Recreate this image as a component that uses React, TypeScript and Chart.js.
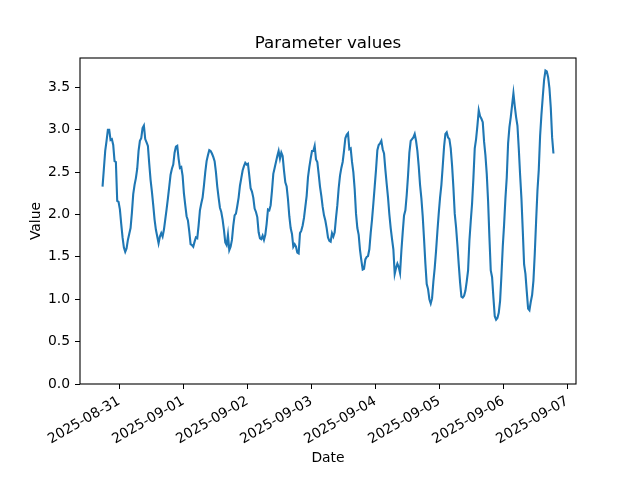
import React, { useEffect, useRef } from "react";
import { Chart, registerables } from "chart.js";

Chart.register(...registerables);

const TITLE = "Parameter values";
const X_LABEL = "Date";
const Y_LABEL = "Value";

const START_UTC = "2025-08-30T17:45:00Z";
const STEP_HOURS = 0.5;

const values: number[] = [
  2.33, 2.54, 2.75, 2.87, 3.0, 3.0, 2.88, 2.89, 2.82, 2.63,
  2.62, 2.16, 2.15, 2.06, 1.89, 1.73, 1.61, 1.56, 1.6, 1.7,
  1.77, 1.84, 2.02, 2.24, 2.35, 2.43, 2.54, 2.75, 2.87, 2.9,
  3.02, 3.05, 2.89, 2.85, 2.81, 2.6, 2.41, 2.27, 2.11, 1.94,
  1.82, 1.74, 1.66, 1.74, 1.78, 1.74, 1.82, 1.94, 2.06, 2.19,
  2.33, 2.47, 2.54, 2.59, 2.73, 2.8, 2.81, 2.66, 2.55, 2.56,
  2.46, 2.25, 2.11, 1.98, 1.93, 1.8, 1.65, 1.64, 1.62, 1.68,
  1.73, 1.72, 1.87, 2.05, 2.13, 2.2, 2.34, 2.5, 2.63, 2.7,
  2.76, 2.75, 2.72, 2.68, 2.63, 2.5, 2.33, 2.2, 2.08, 2.03,
  1.94, 1.82, 1.67, 1.64, 1.76, 1.58, 1.62, 1.7, 1.87, 1.99,
  2.01, 2.1, 2.2, 2.34, 2.43, 2.52, 2.57, 2.61, 2.59, 2.6,
  2.46, 2.31, 2.27, 2.2, 2.07, 2.03, 1.97, 1.79, 1.72, 1.71,
  1.75, 1.7, 1.76, 1.89, 2.06, 2.05, 2.11, 2.28, 2.48, 2.55,
  2.62, 2.69, 2.75, 2.66, 2.73, 2.69, 2.52, 2.38, 2.33, 2.18,
  1.98, 1.84, 1.77, 1.62, 1.65, 1.62, 1.55, 1.54, 1.78, 1.81,
  1.87, 1.96, 2.09, 2.22, 2.44, 2.56, 2.66, 2.75, 2.75, 2.81,
  2.65, 2.62, 2.48, 2.33, 2.22, 2.09, 1.99, 1.93, 1.84, 1.73,
  1.69, 1.68, 1.78, 1.74, 1.79, 1.96, 2.11, 2.31, 2.46, 2.55,
  2.62, 2.75, 2.9, 2.94, 2.96, 2.77, 2.78, 2.62, 2.5, 2.3,
  2.01, 1.84, 1.76, 1.58, 1.46, 1.35, 1.36, 1.47, 1.5, 1.51,
  1.59, 1.78, 1.94, 2.13, 2.33, 2.53, 2.76, 2.82, 2.84, 2.87,
  2.77, 2.72, 2.53, 2.36, 2.2, 2.0, 1.84, 1.71, 1.59, 1.3,
  1.37, 1.42, 1.38, 1.31, 1.57, 1.79, 1.99, 2.05, 2.23, 2.46,
  2.73, 2.87, 2.89, 2.91, 2.95, 2.87, 2.75, 2.57, 2.35, 2.19,
  1.98, 1.71, 1.42, 1.18, 1.12, 1.0, 0.95, 1.01, 1.21, 1.37,
  1.57, 1.8, 2.01, 2.2, 2.35, 2.57, 2.8, 2.95, 2.97, 2.91,
  2.89, 2.78, 2.58, 2.32, 2.01, 1.85, 1.64, 1.41, 1.2, 1.03,
  1.02, 1.04, 1.1, 1.21, 1.34, 1.69, 1.92, 2.13, 2.43, 2.78,
  2.89, 3.05, 3.23, 3.16, 3.13, 3.09, 2.86, 2.7, 2.48, 2.16,
  1.73, 1.34, 1.26, 1.02, 0.8, 0.76, 0.78, 0.84, 0.98, 1.28,
  1.62, 1.88, 2.19, 2.44, 2.84, 3.03, 3.15, 3.29, 3.43, 3.28,
  3.15, 3.05, 2.78, 2.47, 2.19, 1.81, 1.41, 1.3, 1.09, 0.89,
  0.87, 0.97, 1.05, 1.22, 1.54, 1.92, 2.28, 2.53, 2.93, 3.18,
  3.39, 3.59, 3.7, 3.69, 3.62, 3.49, 3.26, 2.91, 2.72,
];

const dayTicks = [
  "2025-08-31",
  "2025-09-01",
  "2025-09-02",
  "2025-09-03",
  "2025-09-04",
  "2025-09-05",
  "2025-09-06",
  "2025-09-07",
];

const yTicks = [0, 0.5, 1.0, 1.5, 2.0, 2.5, 3.0, 3.5];

const HOUR = 3600 * 1000;

export default function App() {
  const canvasRef = useRef<HTMLCanvasElement | null>(null);

  useEffect(() => {
    document.body.style.margin = "0";
    const canvas = canvasRef.current;
    if (!canvas) return;

    const t0 = Date.parse(START_UTC);
    const points = values.map((v, i) => ({ x: t0 + i * STEP_HOURS * HOUR, y: v }));
    const tEnd = points[points.length - 1].x;
    const span = tEnd - t0;
    const xMin = t0 - 0.05 * span;
    const xMax = tEnd + 0.05 * span;
    const vMax = Math.max(...values);
    const vMin = Math.min(...values);
    const yMax = vMax + 0.05 * (vMax - vMin);
    const tickTimes = dayTicks.map((d) => Date.parse(d + "T00:00:00Z"));

    const frame = {
      id: "frameAndText",
      afterDraw(chart: any) {
        const { ctx, chartArea } = chart;
        const { left, right, top, bottom } = chartArea;
        ctx.save();
        ctx.strokeStyle = "#000";
        ctx.lineWidth = 1.1;
        ctx.strokeRect(left, top, right - left, bottom - top);
        ctx.fillStyle = "#000";
        ctx.textAlign = "center";
        ctx.textBaseline = "alphabetic";
        ctx.font = "16.7px 'DejaVu Sans'";
        ctx.fillText(TITLE, (left + right) / 2, top - 10);
        ctx.font = "13.9px 'DejaVu Sans'";
        ctx.fillText(X_LABEL, (left + right) / 2, 462);
        ctx.translate(40, (top + bottom) / 2);
        ctx.rotate(-Math.PI / 2);
        ctx.fillText(Y_LABEL, 0, 0);
        ctx.restore();
      },
    };

    const chart = new Chart(canvas, {
      type: "line",
      data: {
        datasets: [
          {
            data: points,
            borderColor: "#1f77b4",
            borderWidth: 2.1,
            pointRadius: 0,
            tension: 0,
            fill: false,
          },
        ],
      },
      options: {
        animation: false,
        responsive: true,
        maintainAspectRatio: false,
        parsing: false as any,
        layout: { padding: { left: 0, top: 58, right: 64, bottom: 0 } },
        plugins: {
          legend: { display: false },
          title: { display: false },
          tooltip: { enabled: false },
        },
        scales: {
          x: {
            type: "linear",
            min: xMin,
            max: xMax,
            border: { display: false },
            grid: {
              drawOnChartArea: false,
              drawTicks: true,
              tickLength: 5,
              color: "#000",
              lineWidth: 1,
            },
            afterBuildTicks: (scale: any) => {
              scale.ticks = tickTimes.map((t) => ({ value: t }));
            },
            afterFit: (scale: any) => {
              scale.height = 96;
            },
            ticks: {
              autoSkip: false,
              minRotation: 30,
              maxRotation: 30,
              padding: 4,
              color: "#000",
              font: { family: "'DejaVu Sans'", size: 13.9 },
              callback: (_v: any, i: number) => dayTicks[i],
            },
          },
          y: {
            type: "linear",
            min: 0,
            max: yMax,
            border: { display: false },
            grid: {
              drawOnChartArea: false,
              drawTicks: true,
              tickLength: 5,
              color: "#000",
              lineWidth: 1,
            },
            afterBuildTicks: (scale: any) => {
              scale.ticks = yTicks.map((v) => ({ value: v }));
            },
            afterFit: (scale: any) => {
              scale.width = 80;
            },
            ticks: {
              padding: 5,
              color: "#000",
              font: { family: "'DejaVu Sans'", size: 13.9 },
              callback: (v: any) => Number(v).toFixed(1),
            },
          },
        },
      },
      plugins: [frame],
    });

    return () => chart.destroy();
  }, []);

  return (
    <div style={{ width: 640, height: 480, position: "relative" }}>
      <canvas ref={canvasRef} />
    </div>
  );
}
